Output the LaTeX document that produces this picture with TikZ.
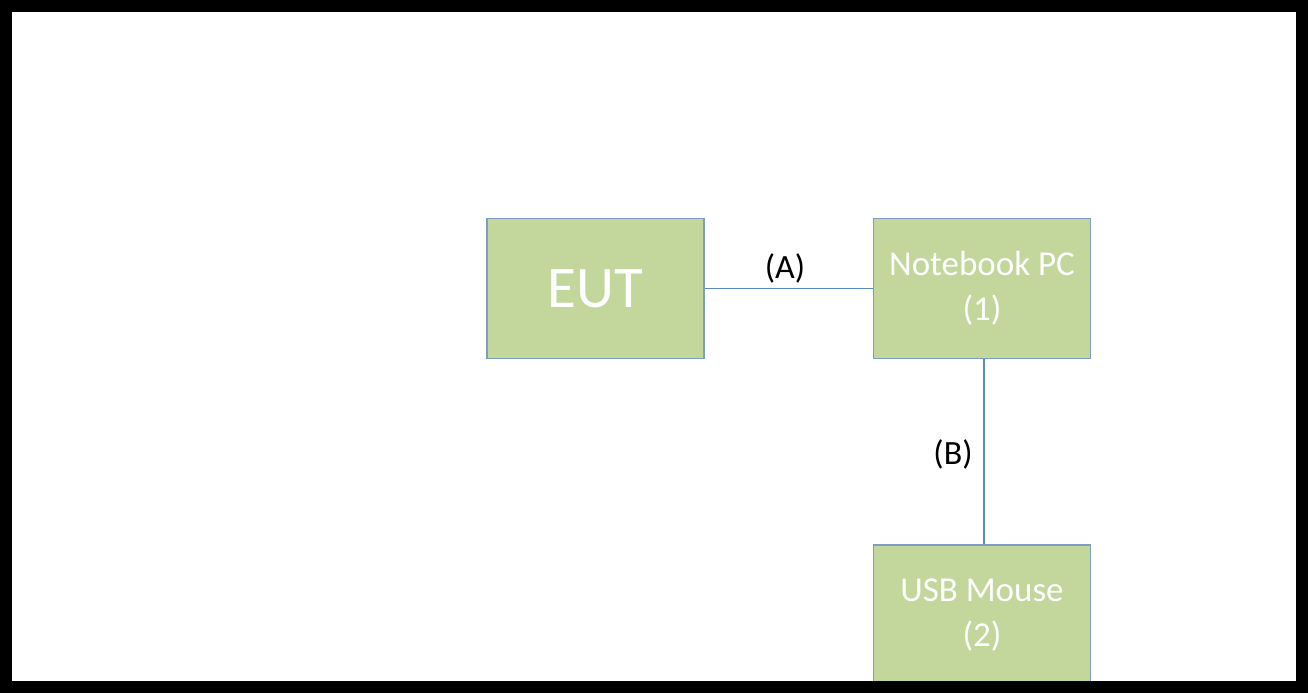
\documentclass[tikz,border=0pt]{standalone}
\usepackage{fontspec}
\setmainfont{Carlito}
\definecolor{boxfill}{HTML}{C3D69B}
\definecolor{boxedge}{HTML}{7F9DC0}
\definecolor{wire}{HTML}{5B8BC6}
\begin{document}
\begin{tikzpicture}[x=1pt,y=-1pt,
  devbox/.style={draw=boxedge,line width=1.5pt,fill=boxfill,minimum width=217pt,minimum height=140pt,
    inner sep=0pt,align=center,text=white,font=\fontsize{35}{45}\selectfont},
  conn/.style={draw=wire,line width=1.2pt},
  lbl/.style={font=\fontsize{34}{38}\selectfont,text=black}]
\useasboundingbox (0,0) rectangle (1309,693);
\fill[white] (0,0) rectangle (1309,693);
\node[devbox,font=\fontsize{59}{60}\selectfont] (eut) at (595.5,288.5) {EUT};
\node[devbox] (nb) at (982,288.5) {Notebook PC\\(1)};
\node[devbox] (mouse) at (982,615) {USB Mouse\\(2)};
\draw[conn] (eut.east) -- (nb.west);
\draw[conn] ([xshift=2pt]nb.south) -- ([xshift=2pt]mouse.north);
\node[lbl] (la) at (785,268) {(A)};
\node[lbl] (lb) at (953,454) {(B)};
\draw[line width=12pt,black] (6,6.5) rectangle (1302,687);
\end{tikzpicture}
\end{document}
